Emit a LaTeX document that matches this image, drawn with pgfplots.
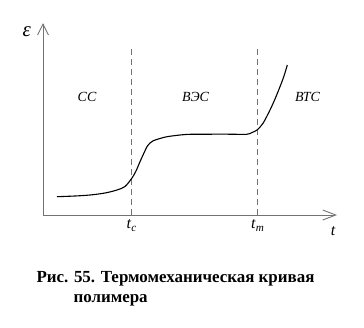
\documentclass[border=0pt]{standalone}
\usepackage{fontspec}
\setmainfont{Liberation Serif}
\usepackage{pgfplots}
\pgfplotsset{compat=1.18}
\usetikzlibrary{arrows.meta}
\begin{document}
\begin{tikzpicture}
\begin{axis}[
  scale only axis,
  width=294bp, height=192bp,
  xmin=43, xmax=337, ymin=113, ymax=305,
  axis lines=left,
  axis line style={black!55, line width=0.6bp},
  x axis line style={-{Straight Barb[length=13bp,width=10bp,line width=0.9bp]}},
  y axis line style={-{Straight Barb[length=11bp,width=11bp,line width=0.9bp]}},
  xtick={131.7,257.7},
  xticklabels={\textit{t}\textsubscript{\textit{c}},\textit{t}\textsubscript{\textit{m}}},
  ytick=\empty,
  major tick length=0pt,
  xticklabel style={font=\fontsize{16}{18}\selectfont, yshift=-1bp},
  clip=false,
]
\path (axis cs:0,0) rectangle (axis cs:364,328);
% dashed boundaries
\addplot[black!55, dashed, dash pattern=on 6bp off 4bp, line width=0.7bp] coordinates {(131.7,113) (131.7,283)};
\addplot[black!55, dashed, dash pattern=on 6bp off 4bp, line width=0.7bp] coordinates {(257.7,113) (257.7,283)};
% thermomechanical curve
\addplot[black, line width=1.1bp, smooth, tension=0.5] coordinates {
(57,131.3) (75,132) (90,133) (105,135) (117,138) (125,141.5) (132,150)
(136,157) (140,166.3) (143.5,174) (147,181.3) (150,185) (153.3,187.3)
(160,189.5) (167,191.3) (180,193) (190,193.7) (210,193.8) (230,193.8)
(246.7,193.7) (252,195.5) (257,198) (263,204.7) (270,218) (275,229)
(280,241.3) (284,252) (287.3,263)};
\node[font=\fontsize{21}{23}\selectfont\itshape] at (axis cs:26.7,296) {ε};
\node[font=\fontsize{16}{18}\selectfont\itshape] at (axis cs:333,97) {t};
\node[font=\fontsize{14}{16}\selectfont\itshape] at (axis cs:87,231) {СС};
\node[font=\fontsize{14}{16}\selectfont\itshape] at (axis cs:195.5,231) {ВЭС};
\node[font=\fontsize{14}{16}\selectfont\itshape] at (axis cs:307.5,231) {ВТС};
\node[font=\fontsize{17}{19}\selectfont\bfseries, anchor=base west] at (axis cs:33,46) {Рис. 55. Термомеханическая кривая};
\node[font=\fontsize{17}{19}\selectfont\bfseries, anchor=base west] at (axis cs:70,26) {полимера};
\end{axis}
\end{tikzpicture}
\end{document}
